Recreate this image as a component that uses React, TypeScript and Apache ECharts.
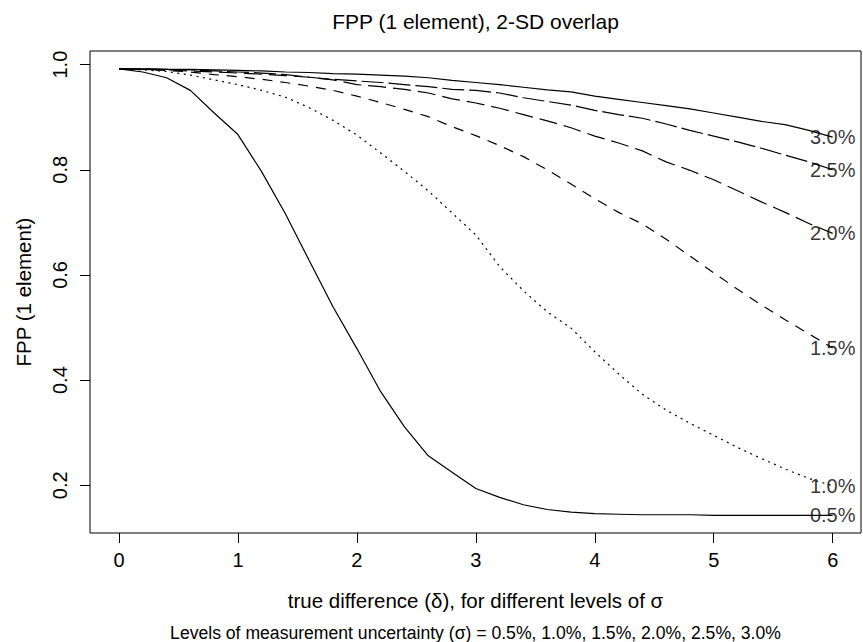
import React, { useEffect, useRef } from "react";
import * as echarts from "echarts";

// true difference (delta)
const deltas = [0, 0.2, 0.4, 0.6, 0.8, 1.0, 1.2, 1.4, 1.6, 1.8, 2.0, 2.2, 2.4, 2.6, 2.8, 3.0, 3.2, 3.4, 3.6, 3.8, 4.0, 4.2, 4.4, 4.6, 4.8, 5.0, 5.2, 5.4, 5.6, 5.8, 6.0];

// FPP for each sigma
const fpp05 = [0.992, 0.986, 0.975, 0.951, 0.908, 0.867, 0.796, 0.716, 0.627, 0.539, 0.460, 0.378, 0.311, 0.256, 0.225, 0.194, 0.177, 0.163, 0.154, 0.149, 0.146, 0.145, 0.144, 0.144, 0.144, 0.143, 0.143, 0.143, 0.143, 0.143, 0.143];
const fpp10 = [0.992, 0.990, 0.987, 0.980, 0.971, 0.962, 0.951, 0.938, 0.918, 0.894, 0.866, 0.832, 0.797, 0.760, 0.718, 0.676, 0.616, 0.570, 0.530, 0.499, 0.454, 0.412, 0.373, 0.343, 0.318, 0.295, 0.272, 0.251, 0.231, 0.213, 0.199];
const fpp15 = [0.992, 0.991, 0.989, 0.986, 0.981, 0.977, 0.972, 0.966, 0.959, 0.951, 0.940, 0.928, 0.915, 0.901, 0.882, 0.865, 0.846, 0.825, 0.800, 0.773, 0.745, 0.719, 0.697, 0.668, 0.636, 0.604, 0.573, 0.543, 0.515, 0.488, 0.461];
const fpp20 = [0.992, 0.991, 0.990, 0.988, 0.986, 0.984, 0.982, 0.979, 0.976, 0.971, 0.962, 0.958, 0.953, 0.946, 0.935, 0.927, 0.917, 0.905, 0.893, 0.880, 0.864, 0.851, 0.836, 0.815, 0.799, 0.781, 0.760, 0.739, 0.719, 0.698, 0.679];
const fpp25 = [0.992, 0.992, 0.991, 0.990, 0.988, 0.986, 0.984, 0.981, 0.976, 0.972, 0.969, 0.966, 0.962, 0.958, 0.953, 0.951, 0.946, 0.937, 0.930, 0.923, 0.913, 0.905, 0.898, 0.887, 0.875, 0.864, 0.853, 0.841, 0.828, 0.815, 0.800];
const fpp30 = [0.992, 0.992, 0.991, 0.991, 0.990, 0.989, 0.988, 0.986, 0.985, 0.983, 0.982, 0.980, 0.978, 0.975, 0.970, 0.966, 0.962, 0.957, 0.952, 0.948, 0.940, 0.934, 0.928, 0.922, 0.916, 0.908, 0.900, 0.892, 0.886, 0.875, 0.862];

const sigmaLabels = ["0.5%", "1.0%", "1.5%", "2.0%", "2.5%", "3.0%"];
const xTicks = [0, 1, 2, 3, 4, 5, 6];
const yTicks = [0.2, 0.4, 0.6, 0.8, 1.0];

const FONT = "'Liberation Sans', Arial, Helvetica, sans-serif";

export default function App() {
  const ref = useRef<HTMLDivElement>(null);

  useEffect(() => {
    document.body.style.margin = "0";
    const chart = echarts.init(ref.current!, null, { renderer: "svg" });

    const allSeries = [fpp05, fpp10, fpp15, fpp20, fpp25, fpp30];
    const dashes: any[] = ["solid", [2, 4.5], [10, 8], [18, 7], [22, 5], "solid"];

    const lineSeries = allSeries.map((vals, i) => ({
      type: "line",
      name: sigmaLabels[i],
      data: deltas.map((d, j) => [d, vals[j]]),
      showSymbol: false,
      symbol: "none",
      smooth: false,
      lineStyle: { color: "#000", width: 1.2, type: dashes[i] },
      z: 2,
    }));

    const endLabels = {
      type: "scatter",
      data: allSeries.map((vals, i) => [deltas[deltas.length - 1], vals[vals.length - 1], sigmaLabels[i]]),
      symbolSize: 1,
      itemStyle: { color: "rgba(0,0,0,0)" },
      label: {
        show: true,
        position: "inside",
        formatter: (p: any) => p.data[2],
        color: "#000",
        fontFamily: FONT,
        fontSize: 20,
      },
      z: 5,
    };

    const cx = 90 + (861 - 90) / 2;

    chart.setOption({
      animation: false,
      backgroundColor: "#fff",
      textStyle: { fontFamily: FONT },
      grid: {
        left: 90,
        top: 51,
        right: 2,
        bottom: 109,
        show: true,
        borderColor: "#000",
        borderWidth: 1,
        containLabel: false,
        outerBoundsMode: "none",
      },
      xAxis: {
        type: "value",
        min: -0.2438,
        max: 6.238,
        splitLine: { show: false },
        axisLine: { show: false, onZero: false },
        axisTick: { show: true, length: 10, lineStyle: { color: "#000", width: 1 }, customValues: xTicks },
        axisLabel: {
          color: "#000",
          fontSize: 20,
          fontFamily: FONT,
          margin: 17,
          customValues: xTicks,
          formatter: (v: number) => String(v),
        },
      },
      yAxis: {
        type: "value",
        min: 0.1093,
        max: 1.0259,
        splitLine: { show: false },
        axisLine: { show: false, onZero: false },
        axisTick: { show: true, length: 10, lineStyle: { color: "#000", width: 1 }, customValues: yTicks },
        axisLabel: {
          color: "#000",
          fontSize: 20,
          fontFamily: FONT,
          margin: 20,
          rotate: 90,
          customValues: yTicks,
          formatter: (v: number) => v.toFixed(1),
        },
      },
      graphic: [
        {
          type: "text",
          x: cx,
          y: 21,
          style: {
            text: "FPP (1 element), 2-SD overlap",
            fontSize: 21,
            fontFamily: FONT,
            fill: "#000",
            align: "center",
            verticalAlign: "middle",
          },
        },
        {
          type: "text",
          x: cx,
          y: 600,
          style: {
            text: "true difference (δ), for different levels of σ",
            fontSize: 20.5,
            fontFamily: FONT,
            fill: "#000",
            align: "center",
            verticalAlign: "middle",
          },
        },
        {
          type: "text",
          x: cx,
          y: 633,
          style: {
            text: "Levels of measurement uncertainty (σ) = 0.5%, 1.0%, 1.5%, 2.0%, 2.5%, 3.0%",
            fontSize: 17.6,
            fontFamily: FONT,
            fill: "#000",
            align: "center",
            verticalAlign: "middle",
          },
        },
        {
          type: "text",
          x: 23,
          y: (51 + 533) / 2,
          rotation: Math.PI / 2,
          style: {
            text: "FPP (1 element)",
            fontSize: 20.5,
            fontFamily: FONT,
            fill: "#000",
            align: "center",
            verticalAlign: "middle",
          },
        },
      ],
      series: [...lineSeries, endLabels],
    });

    return () => chart.dispose();
  }, []);

  return <div ref={ref} style={{ width: 863, height: 642 }} />;
}
